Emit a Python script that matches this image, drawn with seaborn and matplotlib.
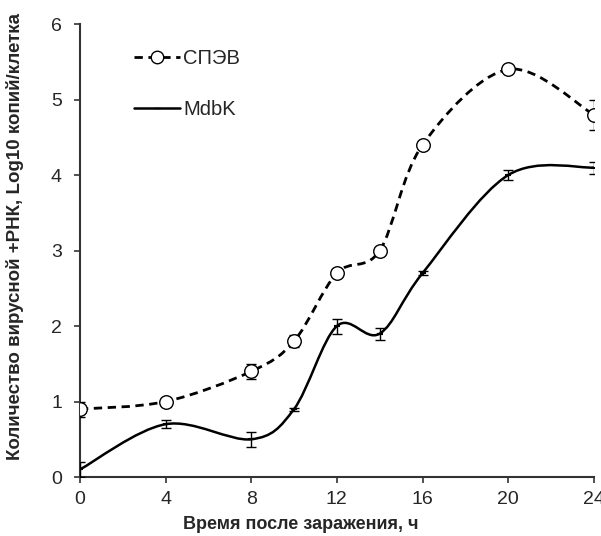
import matplotlib
matplotlib.use("Agg")
import matplotlib.pyplot as plt
from matplotlib.path import Path
from matplotlib.patches import PathPatch
from matplotlib.lines import Line2D
import numpy as np
import pandas as pd
import seaborn as sns

# ---- data ----
hours = [0, 4, 8, 10, 12, 14, 16, 20, 24]
spev_vals = [0.9, 1.0, 1.4, 1.8, 2.7, 3.0, 4.4, 5.4, 4.8]
spev_err = [0.1, 0.05, 0.1, 0.08, 0.05, 0.03, 0.05, 0.03, 0.2]
mdbk_vals = [0.1, 0.7, 0.5, 0.9, 2.0, 1.9, 2.7, 4.0, 4.1]
mdbk_err = [0.1, 0.05, 0.1, 0.02, 0.1, 0.08, 0.03, 0.07, 0.08]
series_names = ["СПЭВ", "MdbK"]
x_ticks = [0, 4, 8, 12, 16, 20, 24]
y_ticks = [0, 1, 2, 3, 4, 5, 6]
x_label = "Время после заражения, ч"
y_label = "Количество вирусной +РНК, Log10 копий/клетка"

sns.set_theme(style="ticks")
plt.rcParams["font.family"] = ["Liberation Sans", "DejaVu Sans"]

fig = plt.figure(figsize=(6.01, 5.36), dpi=100)
ax = fig.add_axes([0.133, 0.110, 0.855, 0.845])


def smooth_path(xs, ys):
    """Excel-like smoothed line: cubic Bezier segments (Catmull-Rom tangents)."""
    pts = np.column_stack([xs, ys]).astype(float)
    n = len(pts)
    verts = [pts[0]]
    codes = [Path.MOVETO]
    for i in range(n - 1):
        p0 = pts[i - 1] if i > 0 else pts[i]
        p1 = pts[i]
        p2 = pts[i + 1]
        p3 = pts[i + 2] if i + 2 < n else pts[i + 1]
        c1 = p1 + (p2 - p0) / 6.0
        c2 = p2 - (p3 - p1) / 6.0
        verts += [c1, c2, p2]
        codes += [Path.CURVE4] * 3
    return Path(verts, codes)


df = pd.DataFrame({
    "h": hours * 2,
    "v": spev_vals + mdbk_vals,
    "e": spev_err + mdbk_err,
    "s": [series_names[0]] * len(hours) + [series_names[1]] * len(hours),
})

# smoothed lines
ax.add_patch(PathPatch(smooth_path(hours, spev_vals), facecolor="none",
                       edgecolor="black", lw=2.0, linestyle=(0, (3, 2)),
                       capstyle="butt", zorder=2))
ax.add_patch(PathPatch(smooth_path(hours, mdbk_vals), facecolor="none",
                       edgecolor="black", lw=1.8, linestyle="-", zorder=2))

# error bars
for name, vals, errs in [(series_names[0], spev_vals, spev_err),
                         (series_names[1], mdbk_vals, mdbk_err)]:
    ax.errorbar(hours, vals, yerr=errs, fmt="none", ecolor="black",
                elinewidth=1.0, capsize=3.5, capthick=1.0, zorder=3)

# markers
sub1 = df[df["s"] == series_names[0]]
sns.scatterplot(data=sub1, x="h", y="v", ax=ax, marker="o", s=95,
                facecolor="white", edgecolor="black", linewidth=1.0,
                zorder=4, legend=False)
sub2 = df[df["s"] == series_names[1]]
sns.scatterplot(data=sub2, x="h", y="v", ax=ax, marker="_", s=20,
                color="black", linewidth=1.5, zorder=4, legend=False)

ax.set_xlim(0, 24)
ax.set_ylim(0, 6)
ax.set_xticks(x_ticks)
ax.set_yticks(y_ticks)
ax.set_xticklabels([str(t) for t in x_ticks])
ax.set_yticklabels([str(t) for t in y_ticks])
ax.tick_params(axis="both", labelsize=14, length=4, width=1.2,
               color="#333333", direction="out")
ax.tick_params(axis="y", pad=9)
ax.tick_params(axis="x", pad=6)
for side in ["top", "right"]:
    ax.spines[side].set_visible(False)
for side in ["left", "bottom"]:
    ax.spines[side].set_linewidth(1.5)
    ax.spines[side].set_color("#333333")

ax.set_xlabel(x_label, fontsize=13, fontweight="bold")
ax.set_ylabel(y_label, fontsize=13.5, fontweight="bold")
ax.xaxis.set_label_coords(0.43, -0.087)
ax.yaxis.set_label_coords(-0.108, 0.53)

handles = [
    Line2D([], [], color="black", lw=2.0, linestyle=(0, (3, 2)),
           marker="o", markersize=9, markerfacecolor="white",
           markeredgecolor="black", markeredgewidth=1.0),
    Line2D([], [], color="black", lw=1.8, linestyle="-",
           marker="_", markersize=4),
]
ax.legend(handles, series_names, loc="upper left",
          bbox_to_anchor=(0.07, 0.985), frameon=False, fontsize=14.5,
          handlelength=2.3, handletextpad=0.15, labelspacing=1.6)

fig.savefig("out.png", dpi=100)
